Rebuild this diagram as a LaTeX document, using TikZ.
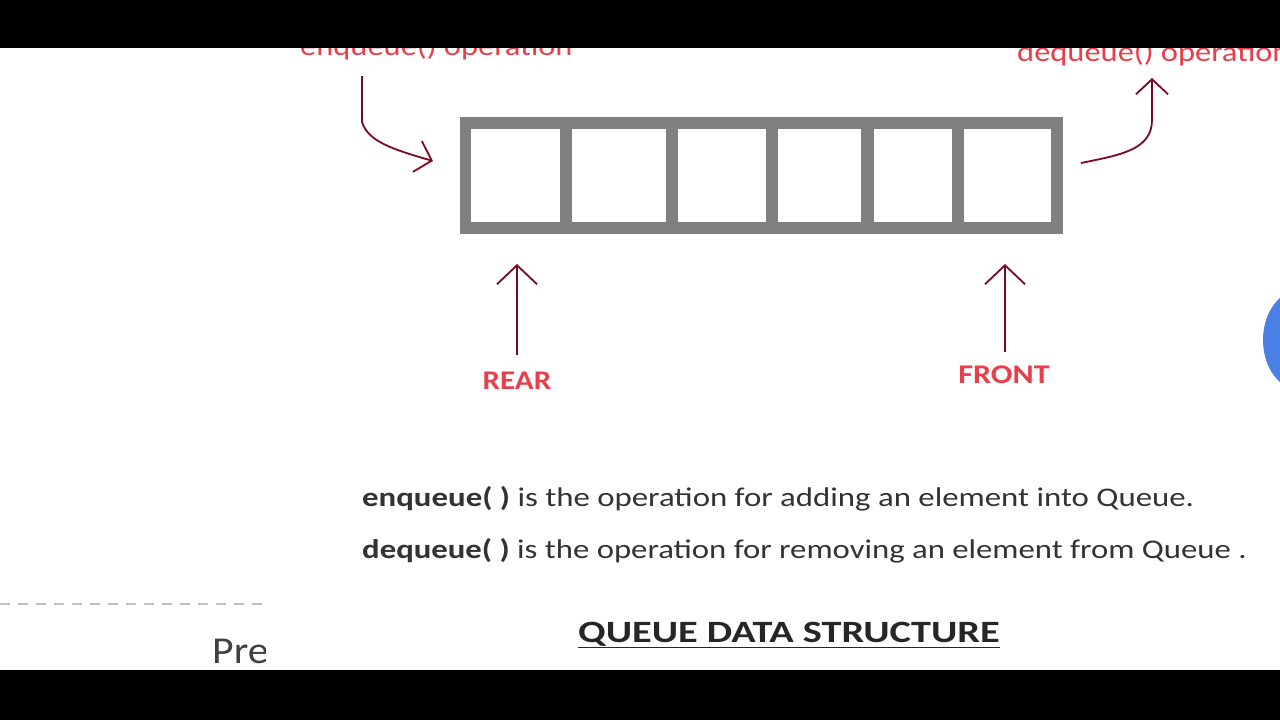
\documentclass[tikz,border=0pt]{standalone}
\usepackage{fontspec}
\usepackage{graphicx}
\setmainfont{Carlito}
\usetikzlibrary{arrows.meta}
\definecolor{boxgray}{HTML}{808080}
\definecolor{lblred}{HTML}{E8404A}
\definecolor{arrred}{HTML}{7A0A22}
\definecolor{bodytext}{HTML}{333333}
\definecolor{blueblob}{HTML}{4A7FE6}
\newcommand{\hstretch}[2]{\scalebox{#1}[1]{#2}}
\tikzset{
  cell/.style={fill=white, draw=none, inner sep=0pt, anchor=north west},
  redlbl/.style={text=lblred, font=\fontsize{27}{30}\selectfont\bfseries, inner sep=0pt},
  oplbl/.style={text=lblred, font=\fontsize{28}{30}\selectfont, inner sep=0pt, anchor=base west},
  arr/.style={draw=arrred, line width=1.8pt, -{Straight Barb[length=19pt, width=40pt, line width=1.8pt]}},
  carr/.style={draw=arrred, line width=1.8pt, -{Straight Barb[length=15pt, width=32pt, line width=1.8pt]}},
  body/.style={text=bodytext, font=\fontsize{27}{30}\selectfont, inner sep=0pt, anchor=base west},
}
\begin{document}
\begin{tikzpicture}[x=1pt, y=-1pt]
\useasboundingbox (0,0) rectangle (1280,720);
\fill[white] (0,0) rectangle (1280,720);

% operation labels (partly hidden by the top bar)
\node[oplbl] (enqlbl) at (300,55) {\hstretch{1.16}{enqueue() operation}};
\node[oplbl] (deqlbl) at (1017,61) {\hstretch{1.16}{dequeue() operation}};

% queue box
\fill[boxgray] (460,117) rectangle (1063,234);
\node[cell, minimum width=89pt, minimum height=93pt] (c1) at (471,129) {};
\node[cell, minimum width=94pt, minimum height=93pt] (c2) at (572,129) {};
\node[cell, minimum width=88.5pt, minimum height=93pt] (c3) at (677.5,129) {};
\node[cell, minimum width=83pt, minimum height=93pt] (c4) at (778,129) {};
\node[cell, minimum width=78.5pt, minimum height=93pt] (c5) at (873.5,129) {};
\node[cell, minimum width=87pt, minimum height=93pt] (c6) at (964,129) {};

% REAR / FRONT
\node[redlbl] (rear) at (517,381) {\hstretch{1.15}{REAR}};
\node[redlbl] (front) at (1004,375) {\hstretch{1.19}{FRONT}};
\coordinate (reartip) at (517,264);
\coordinate (fronttip) at (1005,264);
\draw[arr] (517,355) -- (reartip);
\draw[arr] (1005,352) -- (fronttip);

% enqueue / dequeue curved arrows
\coordinate (enqstart) at (362,76);
\coordinate (enqtip) at (433,161);
\draw[carr] (enqstart) -- (362,122) .. controls (368,142) and (395,150) .. (enqtip);
\coordinate (deqstart) at (1081,163);
\coordinate (deqtip) at (1152,78);
\draw[carr] (deqstart) .. controls (1120,155) and (1152,150) .. (1152,120) -- (deqtip);

% description
\node[body] (l1) at (362,506) {\hstretch{1.216}{\textbf{enqueue( )} is the operation for adding an element into Queue.}};
\node[body] (l2) at (362,558) {\hstretch{1.213}{\textbf{dequeue( )} is the operation for removing an element from Queue .}};

% title
\node[text=black!85, font=\fontsize{31}{34}\selectfont\bfseries, inner sep=0pt, anchor=base] (title) at (789,642) {\hstretch{1.30}{\underline{QUEUE DATA STRUCTURE}}};

% left fragments
\draw[gray!50, line width=1.5pt, dash pattern=on 10pt off 8pt] (0,604) -- (265,604);
\begin{scope}
\clip (0,600) rectangle (265,720);
\node[text=black!75, font=\fontsize{38}{42}\selectfont, inner sep=0pt, anchor=base west] (pre) at (212,663) {\hstretch{1.1}{Preview}};
\end{scope}

% blue blob at right edge
\fill[blueblob] (1300,340) ellipse [x radius=37, y radius=50];

% black bars
\fill[black] (0,0) rectangle (1280,48);
\fill[black] (0,670) rectangle (1280,720);
\end{tikzpicture}
\end{document}
